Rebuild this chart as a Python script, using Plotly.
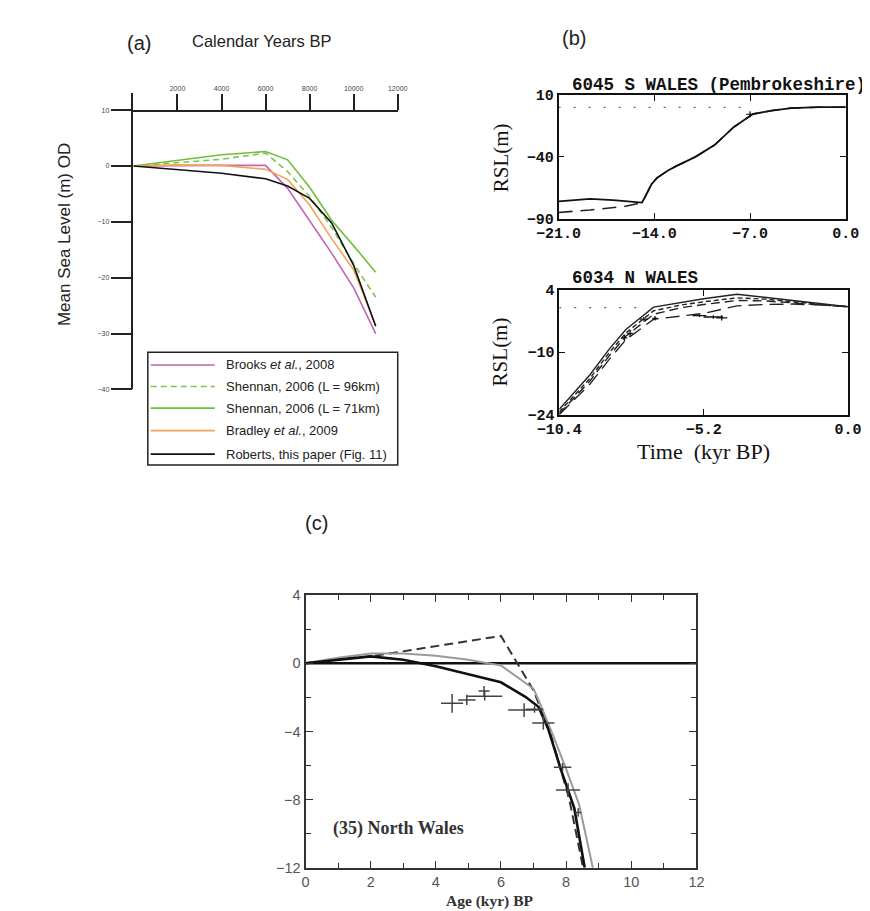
import plotly.graph_objects as go

W, H = 870, 911

# ---------------- Panel (a) data ----------------
a_years = [0, 2000, 4000, 6000, 7000, 8000, 9000, 10000, 11000]
brooks = [0, 0.1, 0.1, 0.1, -4.0, -9.8, -15.6, -21.8, -30.0]
shennan96 = [0, 0.6, 1.2, 2.3, -1.0, -5.5, -11.0, -17.5, -23.5]
shennan71 = [0, 1.0, 2.0, 2.6, 1.1, -3.8, -9.7, -14.3, -19.0]
bradley = [0, 0.2, 0.1, -0.6, -2.4, -7.0, -13.0, -18.6, -28.5]
roberts = [0, -0.6, -1.3, -2.3, -3.6, -5.8, -10.2, -17.8, -28.7]
a_xticks = [2000, 4000, 6000, 8000, 10000, 12000]
a_xticklabels = ["2000", "4000", "6000", "8000", "10000", "12000"]
a_yticks = [-40, -30, -20, -10, 0, 10]
legend_labels = ["Brooks <i>et al.</i>, 2008", "Shennan, 2006 (L = 96km)",
                 "Shennan, 2006 (L = 71km)", "Bradley <i>et al.</i>, 2009",
                 "Roberts, this paper (Fig. 11)"]

# ---------------- Panel (b) top: S Wales ----------------
bs_x = [-21, -20, -18.7, -17, -15.5, -14.9, -14.7, -14.2, -13.8, -13, -12.4, -11,
        -9.6, -8.2, -6.8, -5.4, -4, -2, 0]
bs_solid = [-76, -75, -74, -75, -76, -77, -73, -62, -57, -51, -47.5, -40,
            -30.5, -16, -5.3, -2.5, -0.5, 0.2, 0.2]
bs_dash_x = [-21, -18.7, -16.1, -15.2, -14.9, -14.7, -14.2, -13.8, -13, -12.4, -11,
             -9.6, -8.2, -6.8, -5.4, -4, -2, 0]
bs_dash = [-85, -83, -80, -78, -77, -73, -62, -57, -51, -47.5, -40,
           -30.5, -16, -5.3, -2.5, -0.5, 0.2, 0.2]
bs_xticks = [-21, -14, -7, 0]
bs_yticks = [-90, -40, 10]
bs_obs_x = [-7.0]
bs_obs_y = [-5.5]
bs_obs_xe = [0.3]
bs_obs_ye = [2.5]

# ---------------- Panel (b) bottom: N Wales ----------------
bn_x = [-10.4, -9.3, -8.6, -8.0, -7.0, -6.0, -5.2, -4.0, -3.0, -2.0, -1.0, 0]
bn_1 = [-22.8, -15.1, -9.3, -4.9, 0.1, 1.2, 2.0, 3.0, 2.3, 1.6, 0.9, 0.2]
bn_2 = [-23.4, -15.9, -10.1, -5.7, -0.7, 0.6, 1.3, 2.2, 1.9, 1.3, 0.8, 0.2]
bn_3 = [-23.8, -16.5, -10.8, -6.4, -1.5, 0.0, 0.7, 1.6, 1.5, 1.1, 0.7, 0.2]
bn_4 = [-24.0, -17.2, -11.6, -7.2, -2.6, -1.9, -1.3, 0.4, 0.7, 0.8, 0.6, 0.2]
bn_xticks = [-10.4, -5.2, 0]
bn_yticks = [-24, -10, 4]
bn_obs_x = [-8.05, -7.85, -7.35, -6.95, -5.35, -4.85, -4.55]
bn_obs_y = [-6.8, -5.8, -2.6, -2.4, -1.8, -2.1, -2.3]
bn_obs_xe = [0.1, 0.1, 0.15, 0.1, 0.25, 0.35, 0.2]
bn_obs_ye = [0.8, 0.8, 0.5, 0.5, 0.3, 0.4, 0.6]

# ---------------- Panel (c): North Wales ----------------
c_dash_x = [0, 1, 2, 4, 6.0, 7.0, 7.5, 8.1, 8.52]
c_dash_y = [0, 0.25, 0.4, 1.0, 1.6, -1.6, -4.0, -8.0, -12]
c_gray_x = [0, 1, 2, 3, 4, 5, 5.6, 6.0, 7.0, 7.15, 7.55, 8.0, 8.4, 8.82]
c_gray_y = [0, 0.32, 0.57, 0.57, 0.44, 0.2, 0.0, -0.13, -1.5, -2.15, -4.0, -6.2, -8.3, -12]
c_black_x = [0, 1, 2, 3, 4, 5, 6, 6.75, 7.15, 7.45, 7.85, 8.25, 8.57]
c_black_y = [0, 0.2, 0.4, 0.2, -0.18, -0.65, -1.12, -1.97, -2.55, -3.85, -6.3, -8.5, -12]
c_zero_x = [0, 12]
c_zero_y = [0, 0]
c_obs_x = [4.5, 4.95, 5.5, 5.48, 6.71, 7.03, 7.3, 7.89, 8.06, 8.37]
c_obs_y = [-2.35, -2.15, -1.93, -1.63, -2.75, -2.7, -3.5, -6.1, -7.44, -8.76]
c_obs_xe = [0.34, 0.27, 0.54, 0.17, 0.49, 0.27, 0.34, 0.27, 0.37, 0.1]
c_obs_ye = [0.55, 0.3, 0.25, 0.3, 0.4, 0.2, 0.4, 0.25, 0.4, 0.25]


def px(x):
    return x / W


def py(y):
    return 1 - y / H


SANS = "Liberation Sans, Arial, sans-serif"
SERIF = "Liberation Serif, Times New Roman, serif"
MONO = "Liberation Mono, Courier New, monospace"

fig = go.Figure()

# ---- panel (a) traces
a_series = [
    (brooks, "#c266b4", None),
    (shennan96, "#7cc44a", "6px,4px"),
    (shennan71, "#6fbf3c", None),
    (bradley, "#f2a35a", None),
    (roberts, "#111111", None),
]
for (vals, col, dash), name in zip(a_series, legend_labels):
    fig.add_trace(go.Scatter(x=a_years, y=vals, mode="lines", name=name,
                             line=dict(color=col, width=1.6, dash=dash),
                             xaxis="x", yaxis="y", showlegend=False))

# ---- panel (b) top traces
fig.add_trace(go.Scatter(x=[-21, -6.8], y=[0, 0], mode="lines",
                         line=dict(color="#666", width=1.2, dash="2px,13px"),
                         xaxis="x2", yaxis="y2", showlegend=False))
fig.add_trace(go.Scatter(x=bs_dash_x, y=bs_dash, mode="lines",
                         line=dict(color="#222", width=1.6, dash="14px,8px"),
                         xaxis="x2", yaxis="y2", showlegend=False))
fig.add_trace(go.Scatter(x=bs_x, y=bs_solid, mode="lines",
                         line=dict(color="#111", width=1.8),
                         xaxis="x2", yaxis="y2", showlegend=False))
fig.add_trace(go.Scatter(x=bs_obs_x, y=bs_obs_y, mode="markers",
                         marker=dict(size=1, color="#111"),
                         error_x=dict(type="data", array=bs_obs_xe, width=0, thickness=1.2, color="#111"),
                         error_y=dict(type="data", array=bs_obs_ye, width=0, thickness=1.2, color="#111"),
                         xaxis="x2", yaxis="y2", showlegend=False))

# ---- panel (b) bottom traces
fig.add_trace(go.Scatter(x=[-10.4, -7.6], y=[0, 0], mode="lines",
                         line=dict(color="#666", width=1.2, dash="2px,13px"),
                         xaxis="x3", yaxis="y3", showlegend=False))
for vals, dash in [(bn_4, "14px,7px"), (bn_3, "9px,5px"), (bn_2, "5px,3px"), (bn_1, None)]:
    fig.add_trace(go.Scatter(x=bn_x, y=vals, mode="lines",
                             line=dict(color="#222", width=1.4, dash=dash),
                             xaxis="x3", yaxis="y3", showlegend=False))
fig.add_trace(go.Scatter(x=bn_obs_x, y=bn_obs_y, mode="markers",
                         marker=dict(size=1, color="#111"),
                         error_x=dict(type="data", array=bn_obs_xe, width=0, thickness=1.3, color="#111"),
                         error_y=dict(type="data", array=bn_obs_ye, width=0, thickness=1.3, color="#111"),
                         xaxis="x3", yaxis="y3", showlegend=False))

# ---- panel (c) traces
fig.add_trace(go.Scatter(x=c_zero_x, y=c_zero_y, mode="lines",
                         line=dict(color="#111", width=2.5),
                         xaxis="x4", yaxis="y4", showlegend=False))
fig.add_trace(go.Scatter(x=c_dash_x, y=c_dash_y, mode="lines",
                         line=dict(color="#333", width=2, dash="9px,5px"),
                         xaxis="x4", yaxis="y4", showlegend=False))
fig.add_trace(go.Scatter(x=c_gray_x, y=c_gray_y, mode="lines",
                         line=dict(color="#9a9a9a", width=2),
                         xaxis="x4", yaxis="y4", showlegend=False))
fig.add_trace(go.Scatter(x=c_black_x, y=c_black_y, mode="lines",
                         line=dict(color="#111", width=2.6),
                         xaxis="x4", yaxis="y4", showlegend=False))
fig.add_trace(go.Scatter(x=c_obs_x, y=c_obs_y, mode="markers",
                         marker=dict(size=1, color="#333"),
                         error_x=dict(type="data", array=c_obs_xe, width=0, thickness=1.5, color="#444"),
                         error_y=dict(type="data", array=c_obs_ye, width=0, thickness=1.5, color="#444"),
                         xaxis="x4", yaxis="y4", showlegend=False))

# ---------------- axes ----------------
b_tickfont = dict(family=MONO, size=15, color="#111", weight="bold")
c_tickfont = dict(family=SANS, size=14.5, color="#555")

fig.update_layout(
    width=W, height=H, margin=dict(l=0, r=0, t=0, b=0),
    paper_bgcolor="white", plot_bgcolor="rgba(0,0,0,0)",
    showlegend=False,
    # panel (a)
    xaxis=dict(domain=[px(107), px(383)], range=[0, 12000], side="top",
               anchor="free", position=py(96.7),
               tickvals=a_xticks, ticktext=a_xticklabels,
               ticks="outside", ticklen=16, tickwidth=1.5,
               tickcolor="#222", showline=True, linecolor="#222", linewidth=1.5,
               showgrid=False, zeroline=False,
               tickfont=dict(family=SANS, size=7, color="#444")),
    yaxis=dict(domain=[py(381), py(78.9)], range=[-40, 13], anchor="x",
               tickvals=a_yticks, ticks="outside", ticklen=21, tickwidth=1.5,
               tickcolor="#222", showline=True, linecolor="#222", linewidth=1.5,
               showgrid=False, zeroline=False,
               tickfont=dict(family=SANS, size=7, color="#444")),
    # panel (b) top
    xaxis2=dict(domain=[px(551), px(851)], range=[-21, 0], anchor="y2",
                tickvals=bs_xticks, tickformat=".1f",
                ticks="inside", ticklen=6, tickwidth=1.2, tickcolor="#111",
                mirror="ticks", showline=True, linecolor="#111", linewidth=1.5,
                showgrid=False, zeroline=False, tickfont=b_tickfont),
    yaxis2=dict(domain=[py(206.7), py(80.7)], range=[-90, 10], anchor="x2",
                tickvals=bs_yticks,
                ticks="inside", ticklen=6, tickwidth=1.2, tickcolor="#111",
                mirror="ticks", showline=True, linecolor="#111", linewidth=1.5,
                showgrid=False, zeroline=False, tickfont=b_tickfont),
    # panel (b) bottom
    xaxis3=dict(domain=[px(551.7), px(853.3)], range=[-10.4, 0], anchor="y3",
                tickvals=bn_xticks, tickformat=".1f",
                ticks="inside", ticklen=6, tickwidth=1.2, tickcolor="#111",
                mirror="ticks", showline=True, linecolor="#111", linewidth=1.5,
                showgrid=False, zeroline=False, tickfont=b_tickfont),
    yaxis3=dict(domain=[py(406.7), py(279.3)], range=[-24, 4], anchor="x3",
                tickvals=bn_yticks,
                ticks="inside", ticklen=6, tickwidth=1.2, tickcolor="#111",
                mirror="ticks", showline=True, linecolor="#111", linewidth=1.5,
                showgrid=False, zeroline=False, tickfont=b_tickfont),
    # panel (c)
    xaxis4=dict(domain=[px(286.7), px(695)], range=[0, 12], anchor="y4",
                dtick=2, tick0=0, ticks="inside", ticklen=7, tickwidth=1.2,
                tickcolor="#333", minor=dict(dtick=1, ticks="inside", ticklen=5, tickcolor="#333"),
                mirror="ticks", showline=True, linecolor="#333", linewidth=2,
                showgrid=False, zeroline=False, tickfont=c_tickfont),
    yaxis4=dict(domain=[py(869), py(590.7)], range=[-12, 4], anchor="x4",
                dtick=4, tick0=0, ticks="inside", ticklen=7, tickwidth=1.2,
                tickcolor="#333", minor=dict(dtick=2, ticks="inside", ticklen=5, tickcolor="#333"),
                mirror="ticks", showline=True, linecolor="#333", linewidth=2,
                showgrid=False, zeroline=False, tickfont=c_tickfont),
)

# ---------------- manual legend for panel (a) ----------------
shapes = [dict(type="rect", xref="paper", yref="paper",
               x0=px(122), x1=px(383), y0=py(458), y1=py(343),
               line=dict(color="#222", width=1.5), fillcolor="white", layer="above")]
annotations = []
row_y = [356, 378, 400, 423, 447]
for (vals, col, dash), name, ry in zip(a_series, legend_labels, row_y):
    shapes.append(dict(type="line", xref="paper", yref="paper",
                       x0=px(125), x1=px(192), y0=py(ry), y1=py(ry),
                       line=dict(color=col, width=1.6, dash=dash), layer="above"))
    annotations.append(dict(xref="paper", yref="paper", x=px(202), y=py(ry),
                            xanchor="left", yanchor="middle", showarrow=False,
                            text=name, font=dict(family=SANS, size=13, color="#222")))


def label(text, x, y, size, family=SANS, angle=0, anchor="center", weight="normal", color="#222"):
    annotations.append(dict(xref="paper", yref="paper", x=px(x), y=py(y),
                            xanchor=anchor, yanchor="middle", showarrow=False,
                            text=text, textangle=angle,
                            font=dict(family=family, size=size, color=color, weight=weight)))


label("(a)", 113, 28, 20)
label("Calendar Years BP", 241, 26, 16.5)
label("Mean Sea Level (m) OD", 35, 223, 17, angle=-90)
label("(b)", 567, 22, 20)
label("6045 S WALES (Pembrokeshire)", 563, 70, 17.5, family=MONO, weight="bold", anchor="left", color="#111")
label("RSL(m)", 491, 145, 21, family=SERIF, angle=-90, color="#111")
label("6034 N WALES", 563, 267, 17.5, family=MONO, weight="bold", anchor="left", color="#111")
label("RSL(m)", 490, 343, 21, family=SERIF, angle=-90, color="#111")
label("Time  (kyr BP)", 702, 444, 22, family=SERIF, color="#111")
label("(c)", 298, 517, 20)
label("(35) North Wales", 313, 829, 18, family=SERIF, weight="bold", anchor="left", color="#333")
label("Age (kyr) BP", 479, 903, 15.5, family=SERIF, weight="bold", color="#333")

fig.update_layout(shapes=shapes, annotations=annotations)

fig.write_html("out.html")
